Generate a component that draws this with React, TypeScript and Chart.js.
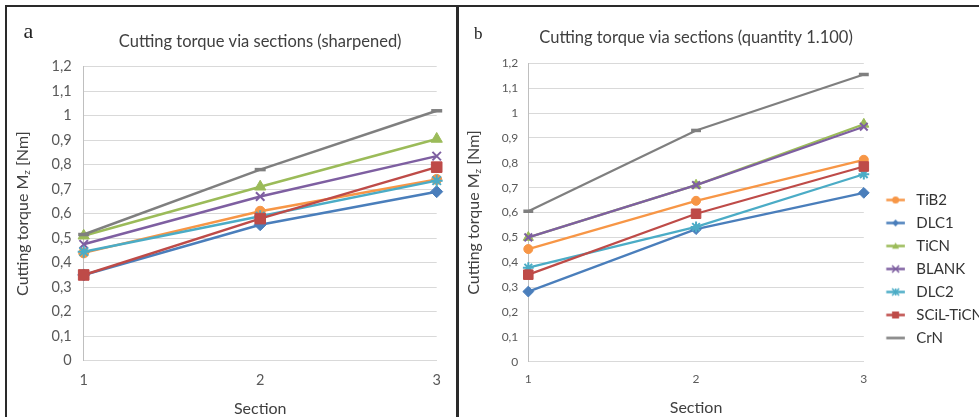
import React, { useEffect, useRef } from 'react';
import { Chart, registerables } from 'chart.js';

Chart.register(...registerables);

// ---------- data ----------
const sections = ['1', '2', '3'];
const seriesNames = ['TiB2', 'DLC1', 'TiCN', 'BLANK', 'DLC2', 'SCiL-TiCN', 'CrN'];
const yTickLabels = ['0', '0,1', '0,2', '0,3', '0,4', '0,5', '0,6', '0,7', '0,8', '0,9', '1', '1,1', '1,2'];

const titleA = 'Cutting torque via sections (sharpened)';
const titleB = 'Cutting torque via sections (quantity 1.100)';
const xTitle = 'Section';
const yTitleParts = ['Cutting torque M', 'z', ' [Nm]'];
const panelLabels = ['a', 'b'];

// panel a (sharpened)
const tib2A = [0.44, 0.61, 0.74];
const dlc1A = [0.35, 0.555, 0.69];
const ticnA = [0.51, 0.71, 0.905];
const blankA = [0.475, 0.67, 0.835];
const dlc2A = [0.445, 0.59, 0.735];
const scilA = [0.35, 0.58, 0.79];
const crnA = [0.515, 0.78, 1.02];

// panel b (quantity 1.100)
const tib2B = [0.453, 0.647, 0.812];
const dlc1B = [0.282, 0.533, 0.679];
const ticnB = [0.5, 0.71, 0.955];
const blankB = [0.5, 0.71, 0.945];
const dlc2B = [0.378, 0.542, 0.754];
const scilB = [0.35, 0.595, 0.785];
const crnB = [0.605, 0.93, 1.155];

const seriesA = [tib2A, dlc1A, ticnA, blankA, dlc2A, scilA, crnA];
const seriesB = [tib2B, dlc1B, ticnB, blankB, dlc2B, scilB, crnB];

// ---------- styles ----------
const FONT = 'Lato';
const colors = ['#F79646', '#4A7EBB', '#9BBB59', '#7E5FA1', '#4BACC6', '#BE4B48', '#7F7F7F'];
const markers = ['circle', 'rectRot', 'triangle', 'crossRot', 'star', 'rect', 'line'];
const radii = [5, 6, 6.5, 6, 6, 7.5, 5.5];

function legendIcon(i: number): HTMLCanvasElement {
  const c = document.createElement('canvas');
  c.width = 37;
  c.height = 15;
  const g = c.getContext('2d')!;
  const col = colors[i];
  g.strokeStyle = col;
  g.fillStyle = col;
  g.lineWidth = 2.5;
  g.beginPath();
  g.moveTo(14.4, 7.5);
  g.lineTo(33, 7.5);
  g.stroke();
  const cx = 23.7;
  const cy = 7.5;
  const r = 3.5;
  g.lineWidth = 1.5;
  switch (markers[i]) {
    case 'circle':
      g.beginPath();
      g.arc(cx, cy, r, 0, Math.PI * 2);
      g.fill();
      break;
    case 'rectRot':
      g.beginPath();
      g.moveTo(cx, cy - r);
      g.lineTo(cx + r, cy);
      g.lineTo(cx, cy + r);
      g.lineTo(cx - r, cy);
      g.closePath();
      g.fill();
      break;
    case 'triangle':
      g.beginPath();
      g.moveTo(cx, cy - r);
      g.lineTo(cx + r, cy + r * 0.8);
      g.lineTo(cx - r, cy + r * 0.8);
      g.closePath();
      g.fill();
      break;
    case 'crossRot':
      g.beginPath();
      g.moveTo(cx - r, cy - r);
      g.lineTo(cx + r, cy + r);
      g.moveTo(cx + r, cy - r);
      g.lineTo(cx - r, cy + r);
      g.stroke();
      break;
    case 'star':
      g.beginPath();
      g.moveTo(cx - r, cy - r);
      g.lineTo(cx + r, cy + r);
      g.moveTo(cx + r, cy - r);
      g.lineTo(cx - r, cy + r);
      g.moveTo(cx, cy - r);
      g.lineTo(cx, cy + r);
      g.stroke();
      break;
    case 'rect':
      g.fillRect(cx - r, cy - r, 2 * r, 2 * r);
      break;
    default:
      break;
  }
  return c;
}

function buildDatasets(series: number[][], scale: number, lw: number) {
  return series.map((data, i) => {
    const m = markers[i];
    const stroked = m === 'crossRot' || m === 'star';
    return {
      label: seriesNames[i],
      data,
      borderColor: colors[i],
      backgroundColor: colors[i],
      borderWidth: lw,
      pointStyle: m,
      pointRadius: radii[i] * scale,
      pointHoverRadius: radii[i] * scale,
      pointBorderWidth: m === 'line' ? 3.5 : stroked ? 2 : 1,
      pointBackgroundColor: colors[i],
      pointBorderColor: colors[i],
      order: series.length - i,
      tension: 0,
      clip: false as any,
    };
  });
}

const yTitlePlugin = {
  id: 'yTitleSub',
  afterDraw(chart: any, _args: any, opts: any) {
    const { ctx, chartArea } = chart;
    const cx = chartArea.left - opts.offset;
    const cy = (chartArea.top + chartArea.bottom) / 2;
    const mainFont = `${opts.size}px ${FONT}`;
    const subFont = `${Math.round(opts.size * 0.62)}px ${FONT}`;
    ctx.save();
    ctx.font = mainFont;
    const w0 = ctx.measureText(yTitleParts[0]).width;
    const w2 = ctx.measureText(yTitleParts[2]).width;
    ctx.font = subFont;
    const w1 = ctx.measureText(yTitleParts[1]).width;
    const total = w0 + w1 + w2;
    ctx.translate(cx, cy);
    ctx.rotate(-Math.PI / 2);
    ctx.fillStyle = opts.color;
    ctx.textAlign = 'left';
    ctx.textBaseline = 'alphabetic';
    const base = opts.size * 0.36;
    let x = -total / 2;
    ctx.font = mainFont;
    ctx.fillText(yTitleParts[0], x, base);
    x += w0;
    ctx.font = subFont;
    ctx.fillText(yTitleParts[1], x, base + opts.size * 0.12);
    x += w1;
    ctx.font = mainFont;
    ctx.fillText(yTitleParts[2], x, base);
    ctx.restore();
  },
};

interface PanelCfg {
  title: string;
  titlePad: { top: number; bottom: number };
  yWidth: number;
  xHeight: number;
  tickSize: number;
  yTickPad: number;
  xTickPad: number;
  xTitlePadBottom: number;
  yTitleOffset: number;
  padRight: number;
  lineWidth: number;
  markerScale: number;
  legend: boolean;
}

function makeConfig(series: number[][], p: PanelCfg, icons: HTMLCanvasElement[]): any {
  return {
    type: 'line',
    data: { labels: sections, datasets: buildDatasets(series, p.markerScale, p.lineWidth) },
    options: {
      responsive: false,
      animation: false,
      events: [],
      layout: { padding: { left: 0, right: p.padRight, top: 0, bottom: 0 } },
      plugins: {
        tooltip: { enabled: false },
        title: {
          display: true,
          text: p.title,
          fullSize: false,
          color: '#404040',
          font: { family: FONT, size: 16.5, weight: 'normal', lineHeight: 1.2 },
          padding: p.titlePad,
        },
        legend: {
          display: p.legend,
          position: 'right',
          align: 'start',
          maxWidth: 400,
          title: { display: true, text: ' ', font: { size: 10, lineHeight: 1 }, padding: { top: 174.5, bottom: 0 } },
          labels: {
            usePointStyle: true,
            pointStyleWidth: 37,
            padding: 8,
            color: '#333333',
            font: { family: FONT, size: 15 },
            sort: (a: any, b: any) => a.datasetIndex - b.datasetIndex,
            generateLabels: (chart: any) => {
              const items = (Chart.defaults.plugins.legend.labels as any).generateLabels(chart);
              return items.map((it: any) => ({ ...it, pointStyle: icons[it.datasetIndex] }));
            },
          },
        },
        yTitleSub: { offset: p.yTitleOffset, size: 16, color: '#404040' },
      },
      scales: {
        x: {
          type: 'category',
          offset: false,
          grid: { display: false, drawTicks: false },
          border: { display: true, color: '#D9D9D9' },
          ticks: { padding: p.xTickPad, color: '#595959', font: { family: FONT, size: p.tickSize }, maxRotation: 0 },
          title: {
            display: true,
            text: xTitle,
            color: '#404040',
            font: { family: FONT, size: 16, lineHeight: 1 },
            padding: { top: 0, bottom: p.xTitlePadBottom },
          },
          afterFit: (s: any) => {
            s.height = p.xHeight;
          },
        },
        y: {
          min: 0,
          max: 1.2,
          grid: { color: '#D9D9D9', drawTicks: false, lineWidth: 1 },
          border: { display: true, color: '#BFBFBF' },
          ticks: {
            stepSize: 0.1,
            padding: p.yTickPad,
            color: '#595959',
            font: { family: FONT, size: p.tickSize },
            callback: (_v: any, i: number) => yTickLabels[i],
          },
          afterFit: (s: any) => {
            s.width = p.yWidth;
          },
        },
      },
    },
    plugins: [yTitlePlugin],
  };
}

export default function App() {
  const refA = useRef<HTMLCanvasElement>(null);
  const refB = useRef<HTMLCanvasElement>(null);

  useEffect(() => {
    const icons = seriesNames.map((_, i) => legendIcon(i));
    const mc = document.createElement('canvas').getContext('2d')!;
    mc.font = `15px ${FONT}`;
    const tw = Math.max(...seriesNames.map((n) => mc.measureText(n).width));
    const widthB = Math.round(405.3 + 8 + 37 + 7.5 + tw + 10);

    const cA = refA.current!;
    cA.width = 456;
    cA.height = 417;
    const cB = refB.current!;
    cB.width = widthB;
    cB.height = 417;

    const chartA = new Chart(
      cA,
      makeConfig(
        seriesA,
        {
          title: titleA,
          titlePad: { top: 31.6, bottom: 15.3 },
          yWidth: 83.7,
          xHeight: 56.3,
          tickSize: 14.5,
          yTickPad: 12,
          xTickPad: 10.6,
          xTitlePadBottom: 0,
          yTitleOffset: 61.7,
          padRight: 19.3,
          lineWidth: 2.5,
          markerScale: 1,
          legend: false,
        },
        icons
      )
    );
    const chartB = new Chart(
      cB,
      makeConfig(
        seriesB,
        {
          title: titleB,
          titlePad: { top: 28.1, bottom: 15.4 },
          yWidth: 69.3,
          xHeight: 55.3,
          tickSize: 12,
          yTickPad: 10,
          xTickPad: 10,
          xTitlePadBottom: 1.5,
          yTitleOffset: 55.3,
          padRight: 0,
          lineWidth: 2.25,
          markerScale: 0.9,
          legend: true,
        },
        icons
      )
    );
    return () => {
      chartA.destroy();
      chartB.destroy();
    };
  }, []);

  const border = '#2a2a2a';
  return (
    <div
      style={{
        position: 'fixed',
        left: 0,
        top: 0,
        width: 979,
        height: 417,
        overflow: 'hidden',
        background: '#ffffff',
      }}
    >
      <canvas ref={refA} style={{ position: 'absolute', left: 0, top: 0 }} />
      <canvas ref={refB} style={{ position: 'absolute', left: 459, top: 0 }} />
      <div
        style={{
          position: 'absolute',
          left: 23.5,
          top: 20,
          fontFamily: '"Liberation Serif", serif',
          fontSize: 22,
          lineHeight: 1,
          color: '#222',
        }}
      >
        {panelLabels[0]}
      </div>
      <div
        style={{
          position: 'absolute',
          left: 474,
          top: 24.8,
          fontFamily: '"Liberation Serif", serif',
          fontSize: 17,
          lineHeight: 1,
          color: '#222',
        }}
      >
        {panelLabels[1]}
      </div>
      <div style={{ position: 'absolute', left: 5, top: 5, width: 974, height: 2, background: border }} />
      <div style={{ position: 'absolute', left: 5, top: 5, width: 2, height: 412, background: border }} />
      <div style={{ position: 'absolute', left: 456, top: 5, width: 3, height: 412, background: border }} />
    </div>
  );
}
